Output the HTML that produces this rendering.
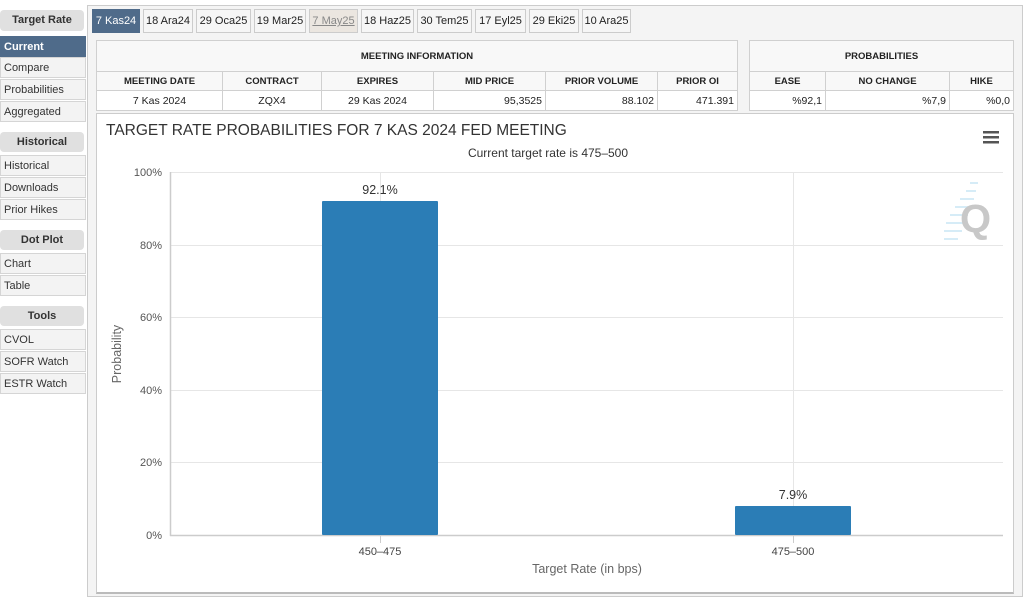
<!DOCTYPE html>
<html><head><meta charset="utf-8"><style>
*{box-sizing:border-box;margin:0;padding:0}
body{width:1024px;height:595px;background:#fff;font-family:"Liberation Sans",Arial,sans-serif;position:relative;overflow:hidden;font-size:11px;color:#222}
.a{position:absolute}
.hd{background:#e0e0e0;border-radius:4px;font-weight:bold;text-align:center;font-size:11px;line-height:20px;color:#333}
.it{position:absolute;left:0;width:86px;height:21px;line-height:20px;background:#f3f3f3;border:1px solid #d5d5d5;padding-left:3px;font-size:11px;color:#333}
.tab{position:absolute;top:9px;height:24px;line-height:23px;border:1px solid #ccc;background:#f6f6f6;text-align:center;font-size:11px;color:#222}
table{border-collapse:collapse;position:absolute;font-size:9.5px}
td{border:1px solid #d0d0d0;text-align:center;padding:0}
.b td{font-weight:bold}
</style></head><body>
<div class="a hd" style="left:0;top:10px;width:84px;height:21px">Target Rate</div>
<div class="it" style="top:36px;background:#4f6b8a;color:#fff;font-weight:bold;border-color:#4f6b8a">Current</div>
<div class="it" style="top:57px">Compare</div>
<div class="it" style="top:79px">Probabilities</div>
<div class="it" style="top:101px">Aggregated</div>
<div class="a hd" style="left:0;top:132px;width:84px;height:20px">Historical</div>
<div class="it" style="top:155px">Historical</div>
<div class="it" style="top:177px">Downloads</div>
<div class="it" style="top:199px">Prior Hikes</div>
<div class="a hd" style="left:0;top:230px;width:84px;height:20px">Dot Plot</div>
<div class="it" style="top:253px">Chart</div>
<div class="it" style="top:275px">Table</div>
<div class="a hd" style="left:0;top:306px;width:84px;height:20px">Tools</div>
<div class="it" style="top:329px">CVOL</div>
<div class="it" style="top:351px">SOFR Watch</div>
<div class="it" style="top:373px">ESTR Watch</div>

<div class="a" style="left:87px;top:5px;width:936px;height:592px;border:1px solid #ccc;background:#f4f4f4"></div>
<div class="tab" style="left:92px;width:48px;background:#4f6b8a;color:#fff;border-color:#4f6b8a">7 Kas24</div>
<div class="tab" style="left:143px;width:50px">18 Ara24</div>
<div class="tab" style="left:196px;width:55px">29 Oca25</div>
<div class="tab" style="left:254px;width:52px">19 Mar25</div>
<div class="tab" style="left:309px;width:49px;background:#ebe6e0;color:#888;text-decoration:underline">7 May25</div>
<div class="tab" style="left:361px;width:53px">18 Haz25</div>
<div class="tab" style="left:417px;width:55px">30 Tem25</div>
<div class="tab" style="left:475px;width:51px">17 Eyl25</div>
<div class="tab" style="left:529px;width:50px">29 Eki25</div>
<div class="tab" style="left:582px;width:49px">10 Ara25</div>

<table style="left:96px;top:40px;width:642px;background:#fff">
<tr class="b" style="height:31px;background:#f8f8f8"><td colspan="6">MEETING INFORMATION</td></tr>
<tr class="b" style="height:19px;background:#f8f8f8"><td style="width:126px">MEETING DATE</td><td style="width:99px">CONTRACT</td><td style="width:112px">EXPIRES</td><td style="width:112px">MID PRICE</td><td style="width:112px">PRIOR VOLUME</td><td>PRIOR OI</td></tr>
<tr style="height:20px;font-size:10.5px"><td>7 Kas 2024</td><td>ZQX4</td><td>29 Kas 2024</td><td style="text-align:right;padding-right:3px">95,3525</td><td style="text-align:right;padding-right:3px">88.102</td><td style="text-align:right;padding-right:3px">471.391</td></tr>
</table>
<table style="left:749px;top:40px;width:265px;background:#fff">
<tr class="b" style="height:31px;background:#f8f8f8"><td colspan="3">PROBABILITIES</td></tr>
<tr class="b" style="height:19px;background:#f8f8f8"><td style="width:76px">EASE</td><td style="width:124px">NO CHANGE</td><td>HIKE</td></tr>
<tr style="height:20px;font-size:10.5px"><td style="text-align:right;padding-right:3px">%92,1</td><td style="text-align:right;padding-right:3px">%7,9</td><td style="text-align:right;padding-right:3px">%0,0</td></tr>
</table>

<div class="a" style="left:96px;top:113px;width:918px;height:481px;background:#fff;border:1px solid #ccc;border-bottom:2px solid #bbb"></div>
<svg class="a" style="left:0;top:0" width="1024" height="595" font-family="Liberation Sans, sans-serif">
<text x="106" y="135" font-size="15.5" fill="#333">TARGET RATE PROBABILITIES FOR 7 KAS 2024 FED MEETING</text>
<text x="548" y="157" font-size="12" fill="#333" text-anchor="middle">Current target rate is 475–500</text>
<g fill="#555"><rect x="983" y="131" width="16" height="2.5"/><rect x="983" y="136" width="16" height="2.5"/><rect x="983" y="141" width="16" height="2.5"/></g>
<g stroke="#e6e6e6" stroke-width="1">
<line x1="170" y1="172.5" x2="1003" y2="172.5"/><line x1="170" y1="245.5" x2="1003" y2="245.5"/><line x1="170" y1="317.5" x2="1003" y2="317.5"/><line x1="170" y1="390.5" x2="1003" y2="390.5"/><line x1="170" y1="462.5" x2="1003" y2="462.5"/>
<line x1="380.5" y1="172" x2="380.5" y2="535"/><line x1="793.5" y1="172" x2="793.5" y2="535"/>
</g>
<g fill="#d6ecf7"><rect x="970" y="182" width="8" height="2"/><rect x="966" y="190" width="10" height="2"/><rect x="960" y="198" width="14" height="2"/><rect x="955" y="206" width="16" height="2"/><rect x="950" y="214" width="18" height="2"/><rect x="946" y="222" width="20" height="2"/><rect x="944" y="230" width="18" height="2"/><rect x="944" y="238" width="14" height="2"/></g>
<text x="960" y="232" font-size="40" font-weight="bold" fill="#c8c8c8">Q</text>
<line x1="170.5" y1="172" x2="170.5" y2="536" stroke="#ccc" stroke-width="1.5"/>
<line x1="170" y1="535.5" x2="1003" y2="535.5" stroke="#ccc" stroke-width="1.5"/>
<line x1="380.5" y1="535" x2="380.5" y2="543" stroke="#ccc"/><line x1="793.5" y1="535" x2="793.5" y2="543" stroke="#ccc"/>
<g font-size="11" fill="#555" text-anchor="end">
<text x="162" y="176">100%</text><text x="162" y="249">80%</text><text x="162" y="321">60%</text><text x="162" y="394">40%</text><text x="162" y="466">20%</text><text x="162" y="539">0%</text>
</g>
<rect x="322" y="201" width="116" height="334" fill="#2b7db6" rx="1"/>
<rect x="735" y="506" width="116" height="29" fill="#2b7db6" rx="1"/>
<text x="380" y="194" font-size="12.5" fill="#333" text-anchor="middle">92.1%</text>
<text x="793" y="499" font-size="12.5" fill="#333" text-anchor="middle">7.9%</text>
<text x="380" y="555" font-size="11" fill="#444" text-anchor="middle">450–475</text>
<text x="793" y="555" font-size="11" fill="#444" text-anchor="middle">475–500</text>
<text x="587" y="573" font-size="12.5" fill="#666" text-anchor="middle">Target Rate (in bps)</text>
<text transform="translate(121,354) rotate(-90)" font-size="12.5" fill="#666" text-anchor="middle">Probability</text>
</svg>
</body></html>
